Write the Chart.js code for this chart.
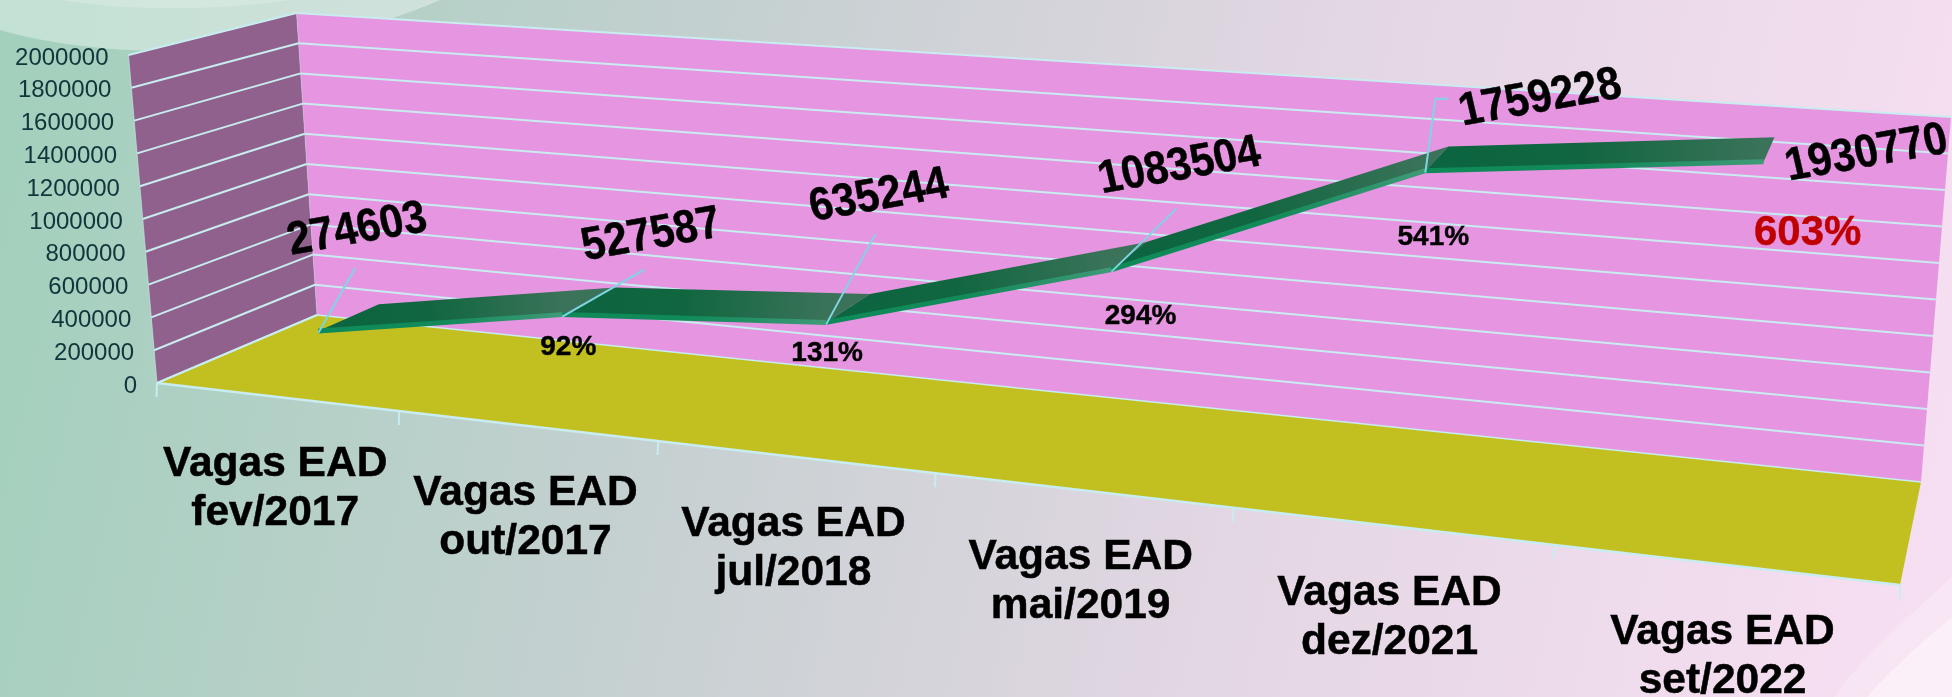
<!DOCTYPE html>
<html><head><meta charset="utf-8">
<script src="https://cdn.jsdelivr.net/npm/chart.js@4"></script>
<style>html,body{margin:0;padding:0;background:#d0d0d8;overflow:hidden}canvas{display:block}</style>
</head><body><canvas id="c" width="1952" height="697"></canvas>
<script>
const categories = [['Vagas EAD','fev/2017'],['Vagas EAD','out/2017'],['Vagas EAD','jul/2018'],['Vagas EAD','mai/2019'],['Vagas EAD','dez/2021'],['Vagas EAD','set/2022']];
const vagas = [274603,527587,635244,1083504,1759228,1930770];
const percentTexts = ['92%','131%','294%','541%','603%'];
const percentAnchors = [1,2,3,4,5];

// perspective box corners of the 3D plot
const box = {A:[157,383],B:[317,315],C:[296.5,13],D:[128.5,55],E:[1900,585],F:[1921,482],G:[1951,117],H:[1940,179]};
const WARP = 1.239, RIB_F = 0.3, RIB_B = 0.7, SANS = '"Liberation Sans",Arial,sans-serif';
const mix=(a,b,t)=>[a[0]+(b[0]-a[0])*t,a[1]+(b[1]-a[1])*t];
function proj(u,v,w){
  const s=u/(u+(1-u)*WARP);
  const fb=mix(box.A,box.E,s), ft=mix(box.D,box.H,s), bb=mix(box.B,box.F,s), bt=mix(box.C,box.G,s);
  return mix(mix(fb,ft,v),mix(bb,bt,v),w);
}
const normU=(c,i)=>c.scales.x.getPixelForValue(i)/c.width;
const normV=(c,val)=>1-c.scales.y.getPixelForValue(val)/c.height;
function poly(ctx,pts,fill){ctx.beginPath();pts.forEach((p,i)=>i?ctx.lineTo(p[0],p[1]):ctx.moveTo(p[0],p[1]));ctx.closePath();ctx.fillStyle=fill;ctx.fill();}
function seg(ctx,a,b,col,w){ctx.beginPath();ctx.moveTo(a[0],a[1]);ctx.lineTo(b[0],b[1]);ctx.strokeStyle=col;ctx.lineWidth=w;ctx.stroke();}
function heavy(ctx,t,x,y,w){ctx.fillText(t,x,y);ctx.lineWidth=w;ctx.strokeStyle=ctx.fillStyle;ctx.strokeText(t,x,y);}

// offsets relative to each projected point
const leader=[[37,-63],[82,-45],[49,-88],[65,-61],[10,-72]];
const valueOffset=[[39,-101],[89,-79],[53,-126],[68,-103],[115,-72],[103,-8]];
const percentOffset=[[6,33],[1,31],[29,47],[8,67],[44,72]];

const plugin3d={
  id:'plot3d',
  beforeDraw(c){
    const x=c.ctx,W=c.width,H=c.height;
    const g=x.createLinearGradient(0,130,W,570);
    g.addColorStop(0,'#a2d0bc');g.addColorStop(.34,'#c4d0d0');g.addColorStop(.66,'#e4d7e4');g.addColorStop(1,'#f7dff2');
    x.fillStyle=g;x.fillRect(0,0,W,H);
    x.fillStyle='rgba(255,255,255,.36)';
    x.beginPath();x.moveTo(0,0);x.lineTo(0,30);x.bezierCurveTo(110,62,300,62,440,0);x.closePath();x.fill();
    x.fillStyle='rgba(255,255,255,.2)';
    x.beginPath();x.moveTo(62,0);x.bezierCurveTo(120,11,220,11,290,0);x.closePath();x.fill();
    x.fillStyle='rgba(255,255,255,.22)';
    x.beginPath();x.moveTo(W,577);x.bezierCurveTo(1910,615,1860,660,1834,H);x.lineTo(W,H);x.closePath();x.fill();
    x.fillStyle='rgba(255,255,255,.38)';
    x.beginPath();x.moveTo(W,617);x.bezierCurveTo(1925,640,1890,670,1867,H);x.lineTo(W,H);x.closePath();x.fill();
  },
  beforeDatasetsDraw(c){
    const x=c.ctx,GRID='#c8ecf0';
    x.save();x.lineCap='butt';
    poly(x,[box.A,box.B,box.C,box.D],'#90618c');
    poly(x,[box.B,box.F,box.G,box.C],'#e695e0');
    poly(x,[box.A,box.B,box.F,box.E],'#c2c020');
    c.scales.y.ticks.forEach(t=>{
      const v=normV(c,t.value);
      seg(x,proj(0,v,0),proj(0,v,1),GRID,2);
      seg(x,proj(0,v,1),proj(1,v,1),GRID,v===0?1.5:2);
    });
    seg(x,box.A,box.D,'rgba(200,236,240,.6)',1);
    seg(x,box.B,box.C,'rgba(200,236,240,.35)',1);
    seg(x,box.A,box.E,GRID,2.5);
    seg(x,box.A,box.B,GRID,1.5);
    for(let i=0;i<=categories.length;i++){
      const p=proj(i/categories.length,0,0);
      seg(x,p,[p[0]-0.5,p[1]+14],GRID,2);
    }
    const n=vagas.length;
    for(let i=0;i<n-1;i++){
      const u0=normU(c,i),u1=normU(c,i+1),v0=normV(c,vagas[i]),v1=normV(c,vagas[i+1]);
      const a=proj(u0,v0,RIB_F),b=proj(u1,v1,RIB_F),d=proj(u0,v0,RIB_B),e=proj(u1,v1,RIB_B);
      const g=x.createLinearGradient(a[0],a[1],b[0],b[1]);
      g.addColorStop(0,'#0b6540');g.addColorStop(.45,'#10663f');g.addColorStop(1,'#3a7359');
      poly(x,[a,b,e,d],g);
    }
    x.restore();
  },
  afterDatasetsDraw(c){
    const x=c.ctx;x.save();
    const pts=c.getDatasetMeta(0).data;
    x.lineCap='butt';
    leader.forEach((o,i)=>{
      const p=pts[i], s=[p.x,p.y+2];
      if(i===4){const m=[p.x+o[0],p.y+o[1]];seg(x,s,m,'#7fd6e2',2);seg(x,m,[m[0]+13,m[1]],'#7fd6e2',2);}
      else seg(x,s,[p.x+o[0],p.y+o[1]],'#7fd6e2',2);
    });
    x.textBaseline='middle';x.textAlign='right';x.font='24px '+SANS;x.fillStyle='#12343b';
    c.scales.y.ticks.forEach(t=>{
      const p=proj(0,normV(c,t.value),0);
      x.fillText(t.label,p[0]-20,p[1]+3);
    });
    x.textAlign='center';x.textBaseline='alphabetic';x.font='bold 42.5px '+SANS;x.fillStyle='#000';
    categories.forEach((lab,i)=>{
      const p=proj(normU(c,i),0,0);
      lab.forEach((t,j)=>heavy(x,t,p[0]-1,p[1]+79+49*j,.5));
    });
    // value labels: rotated baseline with leaning stems, as on the 3D plane
    x.textBaseline='middle';x.font='bold 42px '+SANS;
    vagas.forEach((val,i)=>{
      const o=valueOffset[i],p=pts[i];
      x.save();x.transform(.985,-.174,.25,1.08,p.x+o[0],p.y+o[1]);heavy(x,String(val),0,0,.4);x.restore();
    });
    percentTexts.forEach((t,k)=>{
      const p=pts[percentAnchors[k]],o=percentOffset[k],last=k===percentTexts.length-1;
      x.font='bold '+(last?42:28)+'px '+SANS;x.fillStyle=last?'#c00000':'#000';
      heavy(x,t,p.x+o[0],p.y+o[1],.4);
    });
    x.restore();
  }
};

new Chart(document.getElementById('c'),{
  type:'line',
  plugins:[{
    id:'projectPoints',
    afterDatasetsUpdate(c){
      c.getDatasetMeta(0).data.forEach((pt,i)=>{
        const p=proj(normU(c,i),normV(c,vagas[i]),RIB_F);
        pt.x=p[0];pt.y=p[1];
      });
    }
  },plugin3d],
  data:{labels:categories,datasets:[{
    label:'Vagas EAD',data:vagas,borderColor:'#17895c',borderWidth:5,pointRadius:0,tension:0,fill:false,
    segment:{borderColor:s=>{
      const g=s.chart.ctx.createLinearGradient(s.p0.x,s.p0.y,s.p1.x,s.p1.y);
      g.addColorStop(0,'#0e8a58');g.addColorStop(.5,'#128a5a');g.addColorStop(1,'#3f9a78');return g;
    }}
  }]},
  options:{
    responsive:false,animation:false,devicePixelRatio:1,
    layout:{padding:0},
    plugins:{legend:{display:false},title:{display:false},tooltip:{enabled:false}},
    scales:{
      x:{display:false,offset:true},
      y:{display:false,min:0,max:2000000,ticks:{stepSize:200000,callback:v=>String(v)}}
    }
  }
});
</script></body></html>
